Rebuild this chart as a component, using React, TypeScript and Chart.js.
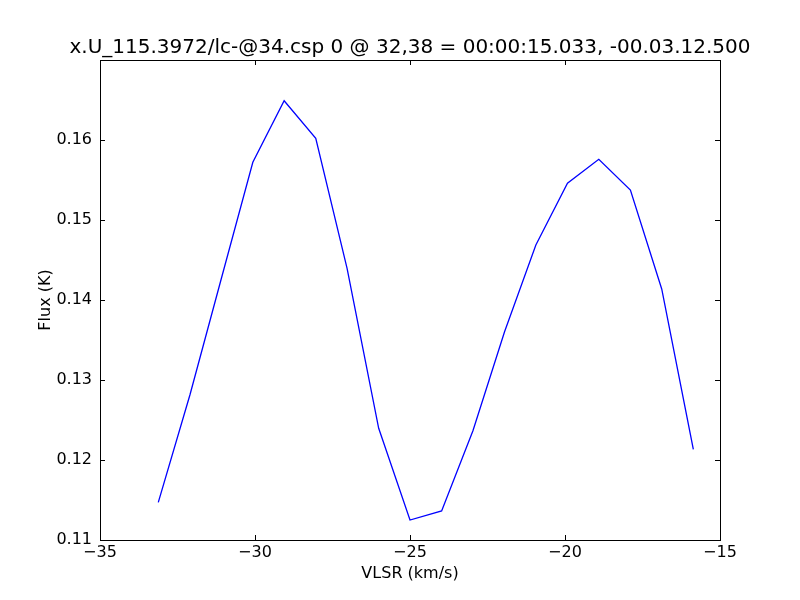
import React, { useEffect, useRef } from "react";
import { Chart, registerables } from "chart.js";

Chart.register(...registerables);

const titleText = "x.U_115.3972/lc-@34.csp 0 @ 32,38 = 00:00:15.033, -00.03.12.500";
const xLabel = "VLSR (km/s)";
const yLabel = "Flux (K)";

const velocity = [
  -33.12, -32.1, -31.09, -30.07, -29.06, -28.04, -27.03, -26.01, -25.0,
  -23.98, -22.97, -21.95, -20.94, -19.92, -18.91, -17.89, -16.88, -15.86,
];
const flux = [
  0.11471, 0.12813, 0.14263, 0.15721, 0.16491, 0.16021, 0.14396, 0.12396, 0.1125,
  0.11363, 0.12366, 0.13604, 0.14688, 0.15459, 0.15759, 0.15375, 0.14138, 0.12134,
];
const xTicks = [-35, -30, -25, -20, -15];
const yTicks = [0.11, 0.12, 0.13, 0.14, 0.15, 0.16];

const FONT = "'DejaVu Sans', 'Liberation Sans', sans-serif";

const frameTicks = {
  id: "frameTicks",
  afterDraw(chart: any) {
    const { ctx, chartArea } = chart;
    const { left, right, top, bottom } = chartArea;
    const xs = chart.scales.x;
    const ys = chart.scales.y;
    const len = 5;
    ctx.save();
    ctx.strokeStyle = "#000000";
    ctx.lineWidth = 1;
    ctx.beginPath();
    xTicks.forEach((v) => {
      const p = Math.round(xs.getPixelForValue(v)) + 0.5;
      ctx.moveTo(p, bottom);
      ctx.lineTo(p, bottom - len);
      ctx.moveTo(p, top);
      ctx.lineTo(p, top + len);
    });
    yTicks.forEach((v) => {
      const p = Math.round(ys.getPixelForValue(v)) + 0.5;
      ctx.moveTo(left, p);
      ctx.lineTo(left + len, p);
      ctx.moveTo(right, p);
      ctx.lineTo(right - len, p);
    });
    ctx.stroke();
    ctx.strokeRect(Math.round(left) + 0.5, Math.round(top) + 0.5, Math.round(right - left), Math.round(bottom - top));
    ctx.restore();
  },
};

export default function App() {
  const ref = useRef<HTMLCanvasElement | null>(null);

  useEffect(() => {
    if (!ref.current) return;
    const chart = new Chart(ref.current, {
      type: "line",
      data: {
        datasets: [
          {
            data: velocity.map((x, i) => ({ x, y: flux[i] })),
            borderColor: "#0000ff",
            borderWidth: 1.3,
            pointRadius: 0,
            tension: 0,
            fill: false,
            xAxisID: "x",
            yAxisID: "y",
          },
        ],
      },
      options: {
        animation: false,
        responsive: false,
        devicePixelRatio: 1,
        layout: { padding: { left: 20, right: 0, top: 0, bottom: 0 } },
        plugins: {
          legend: { display: false },
          tooltip: { enabled: false },
          title: {
            display: true,
            text: titleText,
            fullSize: true,
            color: "#000000",
            font: { family: FONT, size: 20, weight: "normal", lineHeight: 1.2 },
            padding: { top: 35.5, bottom: 0.5 },
          },
        },
        scales: {
          x: {
            type: "linear",
            min: -35,
            max: -15,
            afterBuildTicks: (scale: any) => {
              scale.ticks = xTicks.map((v) => ({ value: v }));
            },
            afterFit: (scale: any) => {
              scale.height = 60;
            },
            grid: { display: false, drawTicks: false },
            border: { display: false },
            ticks: {
              color: "#000000",
              padding: 3,
              maxRotation: 0,
              autoSkip: false,
              font: { family: FONT, size: 16, lineHeight: 1.2 },
              callback: (v: any) => String(v).replace("-", "\u2212"),
            },
            title: {
              display: true,
              text: xLabel,
              color: "#000000",
              font: { family: FONT, size: 16, lineHeight: 1.2 },
              padding: { top: 0, bottom: 17 },
            },
          },
          y: {
            type: "linear",
            position: "left",
            min: 0.11,
            max: 0.17,
            afterBuildTicks: (scale: any) => {
              scale.ticks = yTicks.map((v) => ({ value: v }));
            },
            afterFit: (scale: any) => {
              scale.width = 80;
            },
            grid: { display: false, drawTicks: false },
            border: { display: false },
            ticks: {
              color: "#000000",
              padding: 8,
              autoSkip: false,
              font: { family: FONT, size: 16, lineHeight: 1.2 },
              callback: (v: any) => Number(v).toFixed(2),
            },
            title: {
              display: true,
              text: yLabel,
              color: "#000000",
              font: { family: FONT, size: 16, lineHeight: 1.2 },
              padding: { top: 16, bottom: 0 },
            },
          },
          yRight: {
            type: "linear",
            position: "right",
            display: true,
            min: 0,
            max: 1,
            afterFit: (scale: any) => {
              scale.width = 80;
            },
            grid: { display: false, drawTicks: false },
            border: { display: false },
            ticks: { display: false },
          },
        },
      },
      plugins: [frameTicks],
    } as any);
    return () => chart.destroy();
  }, []);

  return (
    <div style={{ position: "fixed", left: 0, top: 0, width: 800, height: 600, background: "#ffffff" }}>
      <canvas ref={ref} width={800} height={600} style={{ width: 800, height: 600, display: "block" }} />
    </div>
  );
}
